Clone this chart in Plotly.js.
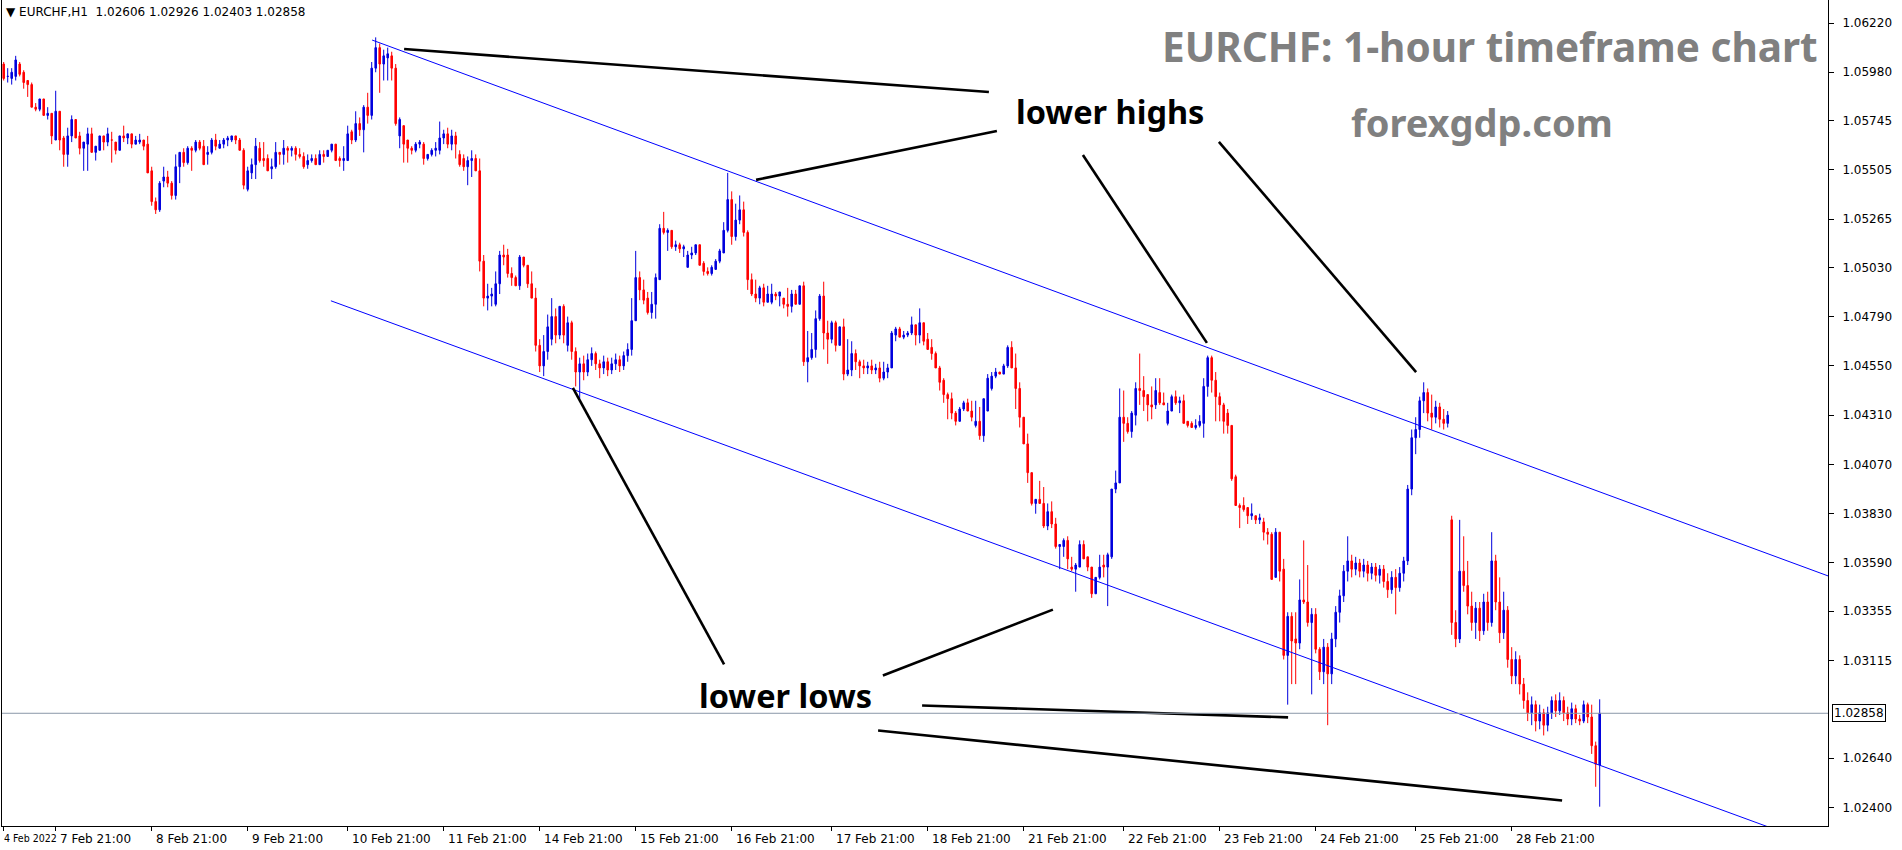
<!DOCTYPE html>
<html><head><meta charset="utf-8">
<script src="https://cdn.plot.ly/plotly-3.0.1.min.js"></script>
<style>html,body{margin:0;padding:0;background:#fff;overflow:hidden}#chart{width:1902px;height:850px}</style>
</head><body><div id="chart"></div>
<script>
// EURCHF H1 candles
const openP = [
1.0602,1.0596,1.0595,1.0596,1.0602,1.0598,1.0594,1.0592,1.0581,1.0580,
1.0585,1.0577,1.0578,1.0565,1.0579,1.0566,1.0558,1.0567,1.0575,1.0567,
1.0561,1.0563,1.0568,1.0559,1.0560,1.0567,1.0564,1.0565,1.0564,1.0560,
1.0567,1.0566,1.0568,1.0563,1.0564,1.0565,1.0563,1.0550,1.0535,1.0531,
1.0545,1.0547,1.0544,1.0538,1.0552,1.0559,1.0554,1.0561,1.0560,1.0564,
1.0562,1.0558,1.0559,1.0565,1.0561,1.0563,1.0565,1.0565,1.0567,1.0565,
1.0560,1.0541,1.0549,1.0553,1.0561,1.0556,1.0556,1.0551,1.0552,1.0559,
1.0558,1.0561,1.0560,1.0561,1.0558,1.0557,1.0553,1.0555,1.0556,1.0553,
1.0558,1.0557,1.0560,1.0563,1.0556,1.0555,1.0555,1.0569,1.0565,1.0573,
1.0570,1.0581,1.0577,1.0600,1.0610,1.0602,1.0605,1.0606,1.0600,1.0567,
1.0572,1.0565,1.0561,1.0560,1.0563,1.0563,1.0556,1.0558,1.0560,1.0560,
1.0566,1.0568,1.0563,1.0567,1.0558,1.0556,1.0552,1.0555,1.0556,1.0550,
1.0506,1.0488,1.0489,1.0485,1.0495,1.0509,1.0509,1.0500,1.0498,1.0494,
1.0508,1.0504,1.0495,1.0488,1.0465,1.0455,1.0462,1.0468,1.0479,1.0470,
1.0484,1.0465,1.0476,1.0462,1.0452,1.0456,1.0452,1.0458,1.0461,1.0456,
1.0454,1.0457,1.0453,1.0456,1.0458,1.0455,1.0460,1.0463,1.0477,1.0498,
1.0492,1.0488,1.0481,1.0485,1.0497,1.0522,1.0520,1.0521,1.0513,1.0514,
1.0512,1.0503,1.0509,1.0510,1.0514,1.0505,1.0501,1.0500,1.0502,1.0506,
1.0510,1.0521,1.0536,1.0518,1.0526,1.0531,1.0520,1.0497,1.0490,1.0488,
1.0493,1.0486,1.0486,1.0490,1.0489,1.0488,1.0485,1.0484,1.0490,1.0485,
1.0494,1.0457,1.0459,1.0463,1.0478,1.0489,1.0471,1.0468,1.0476,1.0465,
1.0474,1.0451,1.0453,1.0461,1.0457,1.0455,1.0454,1.0455,1.0453,1.0454,
1.0449,1.0452,1.0454,1.0470,1.0473,1.0469,1.0470,1.0471,1.0475,1.0470,
1.0476,1.0468,1.0464,1.0461,1.0454,1.0448,1.0441,1.0439,1.0432,1.0428,
1.0434,1.0437,1.0433,1.0426,1.0428,1.0421,1.0433,1.0444,1.0450,1.0452,
1.0451,1.0455,1.0464,1.0454,1.0444,1.0430,1.0417,1.0403,1.0388,1.0390,
1.0388,1.0377,1.0384,1.0378,1.0367,1.0367,1.0370,1.0357,1.0356,1.0357,
1.0368,1.0362,1.0357,1.0344,1.0352,1.0358,1.0357,1.0362,1.0395,1.0398,
1.0430,1.0427,1.0423,1.0431,1.0444,1.0443,1.0441,1.0436,1.0436,1.0442,
1.0437,1.0427,1.0433,1.0440,1.0437,1.0438,1.0428,1.0427,1.0425,1.0426,
1.0427,1.0445,1.0459,1.0448,1.0440,1.0436,1.0432,1.0426,1.0401,1.0387,
1.0387,1.0386,1.0382,1.0382,1.0380,1.0379,1.0374,1.0373,1.0352,1.0374,
1.0356,1.0314,1.0333,1.0322,1.0320,1.0341,1.0340,1.0330,1.0334,1.0317,
1.0306,1.0318,1.0305,1.0322,1.0335,1.0343,1.0355,1.0360,1.0356,1.0359,
1.0355,1.0358,1.0354,1.0357,1.0353,1.0356,1.0350,1.0346,1.0352,1.0347,
1.0354,1.0360,1.0395,1.0420,1.0424,1.0438,1.0442,1.0432,1.0430,1.0435,
1.0429,1.0427,1.0380,1.0330,1.0322,1.0355,1.0348,1.0338,1.0330,1.0337,
1.0326,1.0340,1.0330,1.0360,1.0340,1.0325,1.0336,1.0312,1.0304,1.0312,
1.0300,1.0292,1.0286,1.0290,1.0282,1.0286,1.0280,1.0286,1.0292,1.0287,
1.0292,1.0286,1.0283,1.0288,1.0283,1.0282,1.0290,1.0284,1.0270,1.02606];
const highP = [
1.0603,1.0600,1.0600,1.0606,1.0603,1.0599,1.0594,1.0593,1.0583,1.0585,
1.0585,1.0581,1.0578,1.0589,1.0579,1.0567,1.0571,1.0577,1.0575,1.0569,
1.0564,1.0571,1.0571,1.0562,1.0567,1.0567,1.0571,1.0569,1.0564,1.0567,
1.0572,1.0568,1.0568,1.0567,1.0568,1.0565,1.0567,1.0552,1.0537,1.0545,
1.0552,1.0550,1.0545,1.0558,1.0559,1.0561,1.0562,1.0562,1.0565,1.0565,
1.0565,1.0562,1.0566,1.0568,1.0565,1.0566,1.0567,1.0567,1.0567,1.0566,
1.0561,1.0552,1.0556,1.0566,1.0564,1.0564,1.0558,1.0556,1.0564,1.0559,
1.0565,1.0562,1.0562,1.0562,1.0561,1.0559,1.0558,1.0558,1.0558,1.0560,
1.0560,1.0560,1.0563,1.0563,1.0557,1.0562,1.0572,1.0570,1.0579,1.0576,
1.0582,1.0588,1.0603,1.0615,1.0612,1.0609,1.0610,1.0608,1.0602,1.0576,
1.0572,1.0565,1.0562,1.0564,1.0565,1.0564,1.0558,1.0561,1.0564,1.0574,
1.0570,1.0571,1.0570,1.0569,1.0560,1.0558,1.0557,1.0560,1.0558,1.0556,
1.0509,1.0495,1.0493,1.0501,1.0511,1.0514,1.0512,1.0503,1.0499,1.0509,
1.0508,1.0504,1.0501,1.0493,1.0468,1.0470,1.0480,1.0488,1.0483,1.0484,
1.0485,1.0479,1.0477,1.0464,1.0459,1.0460,1.0461,1.0464,1.0462,1.0458,
1.0460,1.0459,1.0459,1.0461,1.0460,1.0462,1.0466,1.0488,1.0511,1.0501,
1.0497,1.0491,1.0491,1.0500,1.0524,1.0530,1.0522,1.0521,1.0516,1.0515,
1.0514,1.0511,1.0513,1.0514,1.0514,1.0506,1.0503,1.0504,1.0507,1.0512,
1.0525,1.0549,1.0540,1.0534,1.0538,1.0535,1.0521,1.0500,1.0497,1.0494,
1.0495,1.0494,1.0495,1.0491,1.0491,1.0488,1.0493,1.0492,1.0492,1.0494,
1.0496,1.0472,1.0471,1.0482,1.0490,1.0496,1.0477,1.0477,1.0477,1.0474,
1.0478,1.0468,1.0467,1.0463,1.0458,1.0458,1.0457,1.0458,1.0456,1.0457,
1.0457,1.0456,1.0472,1.0474,1.0474,1.0472,1.0472,1.0479,1.0475,1.0483,
1.0476,1.0471,1.0468,1.0462,1.0455,1.0449,1.0442,1.0442,1.0433,1.0435,
1.0438,1.0439,1.0438,1.0438,1.0435,1.0439,1.0451,1.0452,1.0454,1.0452,
1.0456,1.0465,1.0467,1.0461,1.0447,1.0430,1.0422,1.0403,1.0390,1.0399,
1.0396,1.0388,1.0389,1.0381,1.0368,1.0371,1.0372,1.0362,1.0359,1.0370,
1.0370,1.0362,1.0357,1.0352,1.0363,1.0363,1.0364,1.0395,1.0404,1.0444,
1.0443,1.0430,1.0433,1.0447,1.0461,1.0450,1.0441,1.0445,1.0449,1.0449,
1.0442,1.0437,1.0441,1.0443,1.0440,1.0441,1.0428,1.0428,1.0429,1.0431,
1.0449,1.0460,1.0460,1.0452,1.0442,1.0437,1.0434,1.0426,1.0402,1.0388,
1.0391,1.0386,1.0388,1.0382,1.0383,1.0381,1.0376,1.0374,1.0376,1.0374,
1.0361,1.0335,1.0335,1.0335,1.0351,1.0370,1.0358,1.0337,1.0337,1.0318,
1.0322,1.0320,1.0325,1.0338,1.0346,1.0358,1.0372,1.0363,1.0362,1.0361,
1.0361,1.0360,1.0359,1.0359,1.0358,1.0358,1.0354,1.0355,1.0356,1.0357,
1.0362,1.0397,1.0424,1.0430,1.0440,1.0447,1.0444,1.0441,1.0438,1.0437,
1.0434,1.0433,1.0382,1.0336,1.0380,1.0372,1.0360,1.0345,1.0340,1.0340,
1.0344,1.0345,1.0374,1.0363,1.0352,1.0345,1.0338,1.0318,1.0316,1.0314,
1.0303,1.0296,1.0294,1.0292,1.0290,1.0288,1.0289,1.0294,1.0295,1.0296,
1.0294,1.0289,1.0291,1.0290,1.0285,1.0292,1.0291,1.0290,1.0272,1.02926];
const lowP = [
1.0594,1.0593,1.0592,1.0594,1.0596,1.0590,1.0586,1.0581,1.0579,1.0579,
1.0577,1.0575,1.0563,1.0565,1.0560,1.0552,1.0552,1.0564,1.0566,1.0558,
1.0550,1.0550,1.0559,1.0555,1.0560,1.0560,1.0562,1.0554,1.0558,1.0560,
1.0564,1.0563,1.0561,1.0563,1.0563,1.0560,1.0549,1.0533,1.0529,1.0530,
1.0542,1.0542,1.0536,1.0536,1.0544,1.0552,1.0553,1.0550,1.0559,1.0560,
1.0553,1.0553,1.0558,1.0560,1.0561,1.0561,1.0562,1.0564,1.0563,1.0560,
1.0541,1.0540,1.0546,1.0546,1.0554,1.0552,1.0550,1.0546,1.0551,1.0553,
1.0553,1.0554,1.0557,1.0555,1.0556,1.0551,1.0551,1.0554,1.0553,1.0553,
1.0554,1.0557,1.0559,1.0555,1.0552,1.0550,1.0555,1.0563,1.0564,1.0567,
1.0559,1.0573,1.0575,1.0598,1.0588,1.0594,1.0594,1.0594,1.0572,1.0561,
1.0554,1.0554,1.0558,1.0559,1.0561,1.0553,1.0555,1.0557,1.0557,1.0558,
1.0563,1.0561,1.0560,1.0556,1.0552,1.0550,1.0543,1.0547,1.0550,1.0501,
1.0484,1.0482,1.0484,1.0484,1.0490,1.0504,1.0498,1.0494,1.0494,1.0492,
1.0503,1.0493,1.0488,1.0462,1.0452,1.0450,1.0458,1.0465,1.0466,1.0468,
1.0466,1.0462,1.0458,1.0445,1.0439,1.0448,1.0450,1.0455,1.0453,1.0449,
1.0451,1.0450,1.0451,1.0453,1.0452,1.0453,1.0457,1.0460,1.0477,1.0487,
1.0485,1.0480,1.0478,1.0478,1.0497,1.0519,1.0511,1.0512,1.0511,1.0510,
1.0508,1.0503,1.0507,1.0509,1.0504,1.0499,1.0499,1.0499,1.0502,1.0505,
1.0510,1.0520,1.0514,1.0516,1.0524,1.0518,1.0492,1.0489,1.0486,1.0485,
1.0484,1.0486,1.0485,1.0487,1.0484,1.0483,1.0479,1.0481,1.0485,1.0485,
1.0455,1.0447,1.0458,1.0459,1.0477,1.0463,1.0456,1.0466,1.0462,1.0465,
1.0448,1.0450,1.0450,1.0453,1.0449,1.0451,1.0451,1.0451,1.0451,1.0447,
1.0448,1.0449,1.0454,1.0467,1.0469,1.0468,1.0469,1.0470,1.0465,1.0466,
1.0465,1.0463,1.0458,1.0454,1.0443,1.0437,1.0429,1.0429,1.0426,1.0428,
1.0433,1.0433,1.0428,1.0425,1.0419,1.0418,1.0433,1.0443,1.0449,1.0451,
1.0451,1.0454,1.0454,1.0434,1.0425,1.0417,1.0398,1.0387,1.0383,1.0388,
1.0376,1.0375,1.0376,1.0366,1.0356,1.0362,1.0356,1.0355,1.0345,1.0357,
1.0361,1.0355,1.0342,1.0344,1.0351,1.0352,1.0338,1.0361,1.0393,1.0398,
1.0418,1.0422,1.0420,1.0426,1.0436,1.0433,1.0428,1.0429,1.0434,1.0436,
1.0436,1.0426,1.0433,1.0436,1.0432,1.0427,1.0425,1.0425,1.0424,1.0425,
1.0420,1.0440,1.0442,1.0428,1.0428,1.0422,1.0422,1.0399,1.0387,1.0376,
1.0384,1.0378,1.0380,1.0378,1.0378,1.0370,1.0368,1.0351,1.0352,1.0350,
1.0312,1.0290,1.0300,1.0300,1.0317,1.0339,1.0328,1.0295,1.0315,1.0302,
1.0300,1.0280,1.0300,1.0318,1.0330,1.0340,1.0350,1.0352,1.0353,1.0352,
1.0352,1.0350,1.0351,1.0350,1.0349,1.0347,1.0342,1.0344,1.0334,1.0345,
1.0350,1.0358,1.0392,1.0412,1.0420,1.0432,1.0428,1.0424,1.0427,1.0425,
1.0424,1.0425,1.0324,1.0318,1.0320,1.0345,1.0334,1.0326,1.0322,1.0321,
1.0324,1.0326,1.0328,1.0336,1.0320,1.0322,1.0308,1.0300,1.0300,1.0295,
1.0288,1.0282,1.0280,1.0277,1.0278,1.0275,1.0277,1.0283,1.0284,1.0285,
1.0282,1.0280,1.0280,1.0281,1.0280,1.0281,1.0281,1.0266,1.0250,1.02403];
const closeP = [
1.0595,1.0596,1.0598,1.0604,1.0597,1.0593,1.0592,1.0581,1.0580,1.0585,
1.0577,1.0578,1.0567,1.0579,1.0565,1.0558,1.0567,1.0575,1.0566,1.0561,
1.0564,1.0568,1.0559,1.0562,1.0567,1.0564,1.0568,1.0565,1.0560,1.0567,
1.0566,1.0568,1.0563,1.0565,1.0565,1.0562,1.0549,1.0535,1.0531,1.0544,
1.0547,1.0544,1.0538,1.0552,1.0559,1.0554,1.0561,1.0560,1.0564,1.0561,
1.0553,1.0559,1.0565,1.0562,1.0563,1.0565,1.0566,1.0567,1.0565,1.0560,
1.0543,1.0550,1.0553,1.0562,1.0555,1.0555,1.0550,1.0552,1.0559,1.0558,
1.0561,1.0560,1.0561,1.0558,1.0557,1.0552,1.0555,1.0556,1.0553,1.0558,
1.0557,1.0560,1.0563,1.0555,1.0555,1.0556,1.0568,1.0565,1.0573,1.0570,
1.0581,1.0577,1.0600,1.0610,1.0602,1.0606,1.0607,1.0600,1.0573,1.0575,
1.0563,1.0561,1.0560,1.0563,1.0564,1.0556,1.0558,1.0560,1.0561,1.0566,
1.0568,1.0563,1.0567,1.0563,1.0553,1.0552,1.0555,1.0556,1.0550,1.0506,
1.0488,1.0489,1.0490,1.0495,1.0509,1.0508,1.0500,1.0498,1.0494,1.0508,
1.0504,1.0495,1.0488,1.0465,1.0455,1.0462,1.0474,1.0479,1.0470,1.0484,
1.0470,1.0476,1.0462,1.0452,1.0456,1.0452,1.0458,1.0461,1.0456,1.0454,
1.0457,1.0453,1.0456,1.0458,1.0455,1.0460,1.0463,1.0477,1.0498,1.0492,
1.0487,1.0481,1.0485,1.0498,1.0522,1.0520,1.0521,1.0513,1.0514,1.0512,
1.0513,1.0509,1.0510,1.0514,1.0504,1.0501,1.0500,1.0503,1.0506,1.0511,
1.0521,1.0536,1.0518,1.0526,1.0531,1.0520,1.0497,1.0490,1.0488,1.0493,
1.0486,1.0490,1.0490,1.0489,1.0491,1.0485,1.0484,1.0490,1.0485,1.0494,
1.0457,1.0459,1.0463,1.0478,1.0489,1.0471,1.0468,1.0476,1.0465,1.0474,
1.0451,1.0453,1.0461,1.0457,1.0455,1.0454,1.0455,1.0453,1.0454,1.0449,
1.0452,1.0454,1.0471,1.0473,1.0469,1.0470,1.0471,1.0475,1.0470,1.0476,
1.0467,1.0463,1.0461,1.0454,1.0447,1.0441,1.0439,1.0432,1.0428,1.0434,
1.0437,1.0433,1.0430,1.0428,1.0421,1.0439,1.0449,1.0450,1.0452,1.0451,
1.0455,1.0464,1.0454,1.0444,1.0430,1.0417,1.0403,1.0388,1.0390,1.0388,
1.0377,1.0384,1.0378,1.0367,1.0368,1.0370,1.0361,1.0356,1.0358,1.0368,
1.0361,1.0357,1.0344,1.0352,1.0357,1.0357,1.0363,1.0395,1.0398,1.0430,
1.0427,1.0423,1.0432,1.0444,1.0443,1.0440,1.0436,1.0435,1.0443,1.0437,
1.0436,1.0433,1.0440,1.0437,1.0438,1.0427,1.0426,1.0425,1.0426,1.0428,
1.0445,1.0459,1.0448,1.0440,1.0436,1.0428,1.0426,1.0400,1.0387,1.0386,
1.0385,1.0382,1.0383,1.0380,1.0381,1.0374,1.0373,1.0351,1.0374,1.0355,
1.0314,1.0333,1.0321,1.0320,1.0341,1.0340,1.0330,1.0334,1.0317,1.0306,
1.0318,1.0305,1.0322,1.0335,1.0343,1.0355,1.0360,1.0356,1.0359,1.0355,
1.0358,1.0354,1.0357,1.0353,1.0356,1.0350,1.0346,1.0352,1.0347,1.0354,
1.0360,1.0395,1.0420,1.0424,1.0438,1.0442,1.0432,1.0430,1.0435,1.0429,
1.0427,1.0431,1.0330,1.0322,1.0355,1.0348,1.0338,1.0330,1.0337,1.0326,
1.0340,1.0330,1.0360,1.0340,1.0325,1.0336,1.0312,1.0304,1.0312,1.0300,
1.0292,1.0286,1.0290,1.0282,1.0286,1.0280,1.0286,1.0292,1.0287,1.0292,
1.0286,1.0283,1.0288,1.0283,1.0282,1.0290,1.0284,1.0270,1.0261,1.02858];

const priceTicks = [1.06220,1.05980,1.05745,1.05505,1.05265,1.05030,1.04790,1.04550,1.04310,1.04070,1.03830,1.03590,1.03355,1.03115,1.02640,1.02400];
const priceTickText = ['1.06220','1.05980','1.05745','1.05505','1.05265','1.05030','1.04790','1.04550','1.04310','1.04070','1.03830','1.03590','1.03355','1.03115','1.02640','1.02400'];
const timeTickIdx = [0,13,37,61,86,110,134,158,182,207,231,255,280,304,328,353,377];
const timeTickText = ['4 Feb 2022','7 Feb 21:00','8 Feb 21:00','9 Feb 21:00','10 Feb 21:00','11 Feb 21:00','14 Feb 21:00','15 Feb 21:00','16 Feb 21:00','17 Feb 21:00','18 Feb 21:00','21 Feb 21:00','22 Feb 21:00','23 Feb 21:00','24 Feb 21:00','25 Feb 21:00','28 Feb 21:00'];
const lastPrice = 1.02858;
const headerText = 'EURCHF,H1  1.02606 1.02926 1.02403 1.02858';

// channel lines [x0, y0, x1, y1] in bar index / price
const channelLines = [
  [92.1, 1.06137, 460, 1.03499],
  [81.8, 1.04867, 460, 1.02170]
];
// black annotation strokes [x0, y0, x1, y1]
const pointerLines = [
  [100.1, 1.06093, 246.3, 1.05884],
  [188.1, 1.05456, 248.3, 1.05694],
  [269.8, 1.05577, 300.8, 1.04662],
  [303.8, 1.05641, 353.1, 1.04520],
  [142.3, 1.04443, 180.1, 1.03096],
  [219.8, 1.03042, 262.3, 1.03363],
  [229.6, 1.02896, 321.1, 1.02838],
  [218.6, 1.02774, 389.6, 1.02433]
];

const xIdx = openP.map((_, i) => i);

const W = 1902, H = 850, ML = 2, MR = 74, MT = 0, MB = 24;
const PW = W - ML - MR, PH = H - MT - MB;
const px = v => (v - ML) / PW;          // pixel -> paper x
const py = v => (H - MB - v) / PH;      // pixel -> paper y

const trace = {
  type: 'candlestick', x: xIdx, open: openP, high: highP, low: lowP, close: closeP,
  increasing: {line: {color: '#0000DD', width: 1}, fillcolor: '#0000DD'},
  decreasing: {line: {color: '#FF0000', width: 1}, fillcolor: '#FF0000'},
  whiskerwidth: 0, hoverinfo: 'skip', showlegend: false
};

const shapes = [];
channelLines.forEach(l => shapes.push({type: 'line', xref: 'x', yref: 'y', x0: l[0], y0: l[1], x1: l[2], y1: l[3], line: {color: '#0000FF', width: 1}}));
pointerLines.forEach(l => shapes.push({type: 'line', xref: 'x', yref: 'y', x0: l[0], y0: l[1], x1: l[2], y1: l[3], line: {color: '#000000', width: 2.6}}));
shapes.push({type: 'line', xref: 'paper', yref: 'y', x0: 0, x1: 1, y0: lastPrice, y1: lastPrice, line: {color: '#8A97A8', width: 1}});

const axFont = {family: 'DejaVu Sans, sans-serif', size: 12, color: '#000'};
const firstFont = {family: 'DejaVu Sans Condensed, sans-serif', size: 10.5, color: '#000'};
const annotations = [];
timeTickIdx.forEach((t, i) => annotations.push({xref: 'x', yref: 'paper', x: t, y: py(830), xanchor: 'left', yanchor: 'top',
  xshift: i === 0 ? -2 : 2, text: timeTickText[i], showarrow: false, font: i === 0 ? firstFont : axFont}));
annotations.push({xref: 'paper', yref: 'paper', x: px(4), y: py(12), xanchor: 'left', yanchor: 'middle', text: '▼ ' + headerText, showarrow: false, font: axFont});
annotations.push({xref: 'paper', yref: 'y', x: 1, y: lastPrice, xanchor: 'left', yanchor: 'middle', xshift: 4, text: lastPrice.toFixed(5), showarrow: false, font: axFont, bgcolor: '#FFFFFF', bordercolor: '#000000', borderwidth: 1, borderpad: 1});
annotations.push({xref: 'paper', yref: 'paper', x: px(1820), y: py(46), xanchor: 'right', yanchor: 'middle', text: '<b>EURCHF: 1-hour timeframe chart</b>', showarrow: false, font: {family: 'Noto Sans, sans-serif', size: 40.5, color: '#808080'}});
annotations.push({xref: 'paper', yref: 'paper', x: px(1482), y: py(122), xanchor: 'center', yanchor: 'middle', text: '<b>forexgdp.com</b>', showarrow: false, font: {family: 'Noto Sans, sans-serif', size: 38, color: '#808080'}});
annotations.push({xref: 'paper', yref: 'paper', x: px(1110), y: py(112), xanchor: 'center', yanchor: 'middle', text: '<b>lower highs</b>', showarrow: false, font: {family: 'Noto Sans, sans-serif', size: 32.5, color: '#000'}});
annotations.push({xref: 'paper', yref: 'paper', x: px(785), y: py(695), xanchor: 'center', yanchor: 'middle', text: '<b>lower lows</b>', showarrow: false, font: {family: 'Noto Sans, sans-serif', size: 32.5, color: '#000'}});

const layout = {
  width: W, height: H, margin: {l: ML, r: MR, t: MT, b: MB, pad: 0},
  paper_bgcolor: '#FFFFFF', plot_bgcolor: '#FFFFFF', showlegend: false, hovermode: false,
  boxgap: 0.45,
  xaxis: {range: [-(3.7 - ML) / 4, -(3.7 - ML) / 4 + PW / 4], showgrid: false, zeroline: false, rangeslider: {visible: false},
          showline: true, linecolor: '#000', linewidth: 1, tickvals: timeTickIdx, ticktext: timeTickText, showticklabels: false,
          ticks: 'outside', ticklen: 4, tickcolor: '#000', fixedrange: true},
  yaxis: {side: 'right', range: [1.02309, 1.06332], showgrid: false, zeroline: false, showline: true, mirror: true,
          linecolor: '#000', linewidth: 1, tickvals: priceTicks, ticktext: priceTickText, ticks: 'outside', ticklen: 5,
          ticklabelstandoff: 6, tickcolor: '#000', tickfont: axFont, fixedrange: true},
  shapes: shapes, annotations: annotations
};

Plotly.newPlot('chart', [trace], layout, {displayModeBar: false, staticPlot: true});
</script>
</body></html>
